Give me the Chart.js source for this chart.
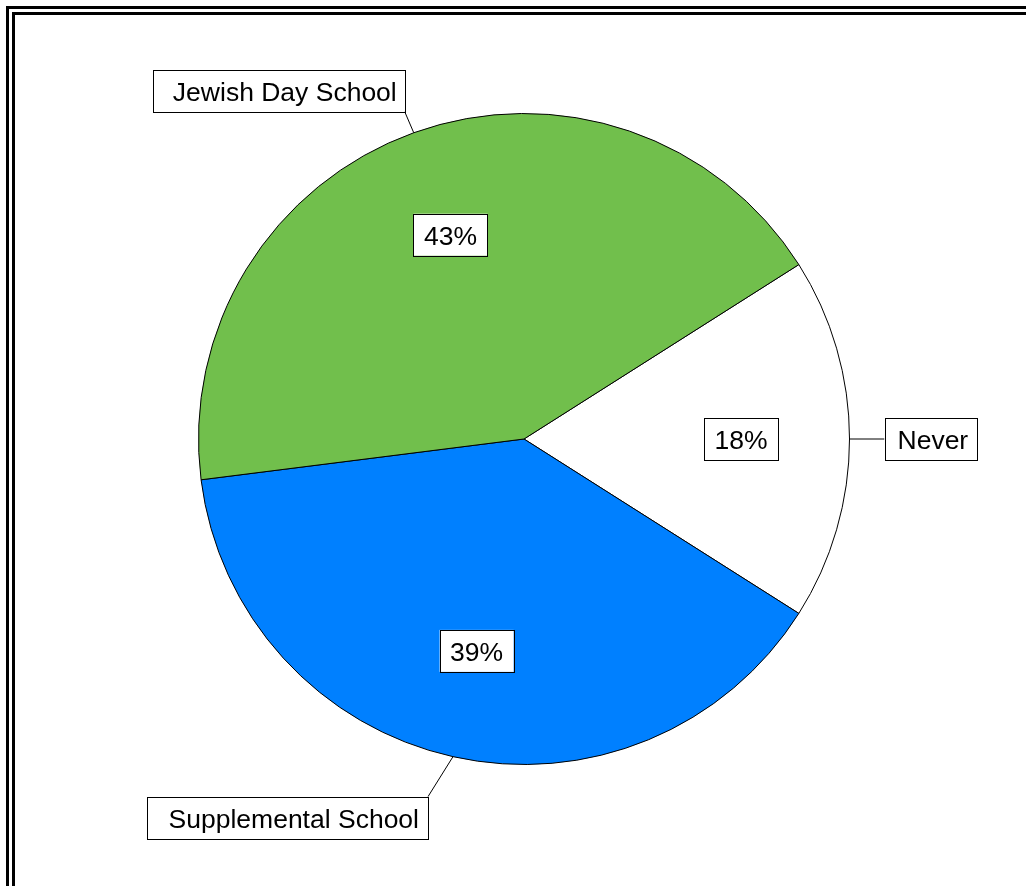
<!DOCTYPE html>
<html>
<head>
<meta charset="utf-8">
<script src="https://cdn.jsdelivr.net/npm/chart.js@4.4.0/dist/chart.umd.min.js"></script>
<style>
    body { margin: 0; background: #fff; overflow: hidden; }
    #wrap { position: relative; width: 1026px; height: 886px; }
    #frame {
        position: absolute; left: 6px; top: 6px; width: 1100px; height: 1000px;
        border: 9px double #000; box-sizing: border-box;
    }
    #pie-chart { position: absolute; left: 0; top: 0; }
</style>
</head>
<body>
<div id="wrap">
    <div id="frame"></div>
    <canvas id="pie-chart" width="1026" height="886"></canvas>
</div>
<script>
const categories = ['Never', 'Supplemental School', 'Jewish Day School'];
const percents = [18, 39, 43];
const sliceColors = ['#ffffff', '#0080ff', '#71bf4c'];

// where each category box sits relative to the point where its leader meets the rim
const calloutStyle = {
    'Never': { dx: 35, dy: 0, anchor: 'left-middle', padL: 13, padR: 8 },
    'Supplemental School': { dx: -25, dy: 40, anchor: 'top-right', padL: 22, padR: 9 },
    'Jewish Day School': { dx: -9, dy: -21, anchor: 'bottom-right', padL: 20, padR: 8 }
};

const FONT = '26.5px "Liberation Sans", Arial, sans-serif';

function drawBox(ctx, x, y, w, h) {
    ctx.fillStyle = '#fff';
    ctx.fillRect(x, y, w, h);
    ctx.strokeStyle = '#000';
    ctx.lineWidth = 1;
    ctx.strokeRect(Math.round(x) + 0.5, Math.round(y) + 0.5, Math.round(w), Math.round(h));
}

const labelPlugin = {
    id: 'boxLabels',
    afterDraw(chart) {
        const ctx = chart.ctx;
        const meta = chart.getDatasetMeta(0);
        ctx.save();
        ctx.font = FONT;
        ctx.textBaseline = 'middle';
        meta.data.forEach((arc, i) => {
            const p = arc.getProps(['x', 'y', 'startAngle', 'endAngle', 'outerRadius'], true);
            const mid = (p.startAngle + p.endAngle) / 2;

            // percentage box inside the slice
            const pr = p.outerRadius * 0.667;
            const cx = p.x + Math.cos(mid) * pr;
            const cy = p.y + Math.sin(mid) * pr;
            const pText = percents[i] + '%';
            const pw = ctx.measureText(pText).width + 21;
            const ph = 42;
            drawBox(ctx, cx - pw / 2, cy - ph / 2, pw, ph);
            ctx.fillStyle = '#000';
            ctx.textAlign = 'center';
            ctx.fillText(pText, cx, cy + 3);

            // category box with leader line from the rim
            const name = categories[i];
            const st = calloutStyle[name];
            const ex = p.x + Math.cos(mid) * p.outerRadius;
            const ey = p.y + Math.sin(mid) * p.outerRadius;
            const lx = ex + st.dx;
            const ly = ey + st.dy;
            ctx.strokeStyle = '#000';
            ctx.lineWidth = 1;
            ctx.beginPath();
            ctx.moveTo(ex, ey);
            ctx.lineTo(lx, ly);
            ctx.stroke();

            const tw = ctx.measureText(name).width;
            const bw = tw + st.padL + st.padR;
            const bh = 42;
            let bx, by;
            if (st.anchor === 'left-middle') { bx = lx; by = ly - bh / 2; }
            else if (st.anchor === 'top-right') { bx = lx - bw; by = ly; }
            else { bx = lx - bw; by = ly - bh; }
            drawBox(ctx, bx, by, bw, bh);
            ctx.fillStyle = '#000';
            ctx.textAlign = 'left';
            ctx.fillText(name, bx + st.padL, by + bh / 2 + 3);
        });
        ctx.restore();
    }
};

new Chart(document.getElementById('pie-chart'), {
    type: 'pie',
    data: {
        labels: categories,
        datasets: [{
            data: percents,
            backgroundColor: sliceColors,
            borderColor: '#000',
            borderWidth: 1
        }]
    },
    options: {
        responsive: false,
        animation: false,
        rotation: 57.6,
        layout: { padding: { left: 198, right: 176, top: 113, bottom: 121 } },
        plugins: {
            legend: { display: false },
            tooltip: { enabled: false }
        }
    },
    plugins: [labelPlugin]
});
</script>
</body>
</html>
